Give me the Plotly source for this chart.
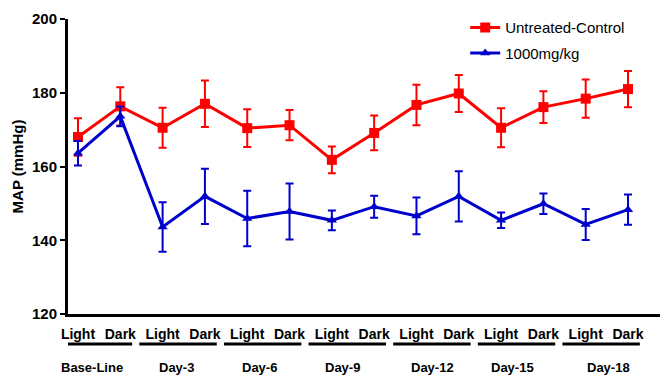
import plotly.graph_objects as go

phases = ["Light", "Dark"] * 7
groups = ["Base-Line", "Day-3", "Day-6", "Day-9", "Day-12", "Day-15", "Day-18"]
control = [168.0, 176.3, 170.5, 177.0, 170.4, 171.2, 161.8, 169.1, 176.7, 179.8, 170.5, 176.1, 178.4, 181.0]
control_err = [5.1, 5.2, 5.4, 6.3, 5.1, 4.1, 3.6, 4.7, 5.5, 5.0, 5.3, 4.3, 5.2, 4.9]
treated = [163.6, 173.6, 143.6, 151.9, 145.9, 147.8, 145.4, 149.1, 146.6, 151.9, 145.4, 149.9, 144.3, 148.3]
treated_err = [3.3, 2.7, 6.7, 7.5, 7.5, 7.6, 2.7, 3.0, 5.0, 6.8, 2.1, 2.8, 4.2, 4.1]
y_ticks = [120, 140, 160, 180, 200]

FONT = "Liberation Sans, Arial, sans-serif"
RED = "#ff0000"
BLUE = "#0000cc"

x = list(range(len(phases)))

fig = go.Figure()
fig.add_trace(go.Scatter(
    x=x, y=control, mode="lines+markers", name="Untreated-Control", legendgroup="a",
    line=dict(color=RED, width=3),
    marker=dict(symbol="square", size=10, color=RED),
    error_y=dict(type="data", array=control_err, visible=True, color=RED, thickness=2, width=4),
))
fig.add_trace(go.Scatter(
    x=x, y=treated, mode="lines+markers", name="1000mg/kg", legendgroup="b",
    line=dict(color=BLUE, width=3),
    marker=dict(symbol="triangle-up", size=9, color=BLUE),
    error_y=dict(type="data", array=treated_err, visible=True, color=BLUE, thickness=2, width=4),
))

# group underlines and labels
label_shift = [-0.17, -0.18, -0.22, -0.24, -0.11, -0.24, 0.03]
for i, g in enumerate(groups):
    fig.add_shape(type="line", xref="x", yref="paper",
                  x0=2 * i - 0.55, x1=2 * i + 1.28, y0=-0.102, y1=-0.102,
                  line=dict(color="black", width=3))
    fig.add_annotation(x=2 * i + 0.5 + label_shift[i], y=-0.18, xref="x", yref="paper",
                       text=g, showarrow=False, yanchor="middle",
                       font=dict(family=FONT, size=13, color="black", weight="bold"))

# the page body adds an 8px offset, so the figure is 8px smaller than the window
fig.update_layout(
    width=660, height=369,
    margin=dict(l=60, r=0, t=11, b=63, autoexpand=False),
    paper_bgcolor="white", plot_bgcolor="white",
    showlegend=True,
    legend=dict(x=0.662, y=1.026, xanchor="left", yanchor="top",
                font=dict(family=FONT, size=15, color="black"),
                itemwidth=30, tracegroupgap=3, bgcolor="rgba(0,0,0,0)"),
    font=dict(family=FONT, color="black"),
)
fig.update_xaxes(
    range=[-0.236, 13.945], tickmode="array", tickvals=x, ticktext=phases,
    showgrid=False, zeroline=False, showline=True, linecolor="black", linewidth=3,
    ticks="outside", ticklen=5, tickcolor="rgba(0,0,0,0)", automargin=False,
    tickfont=dict(family=FONT, size=14, color="black", weight="bold"),
)
fig.update_yaxes(
    range=[120, 200], tickmode="array", tickvals=y_ticks, automargin=False,
    showgrid=False, zeroline=False, showline=True, linecolor="black", linewidth=3,
    ticks="outside", ticklen=5, tickwidth=2, tickcolor="black",
    tickfont=dict(family=FONT, size=15, color="black", weight="bold"),
    title=dict(text="MAP (mmHg)", standoff=5,
               font=dict(family=FONT, size=15, color="black", weight="bold")),
)

fig.write_html("out.html")
